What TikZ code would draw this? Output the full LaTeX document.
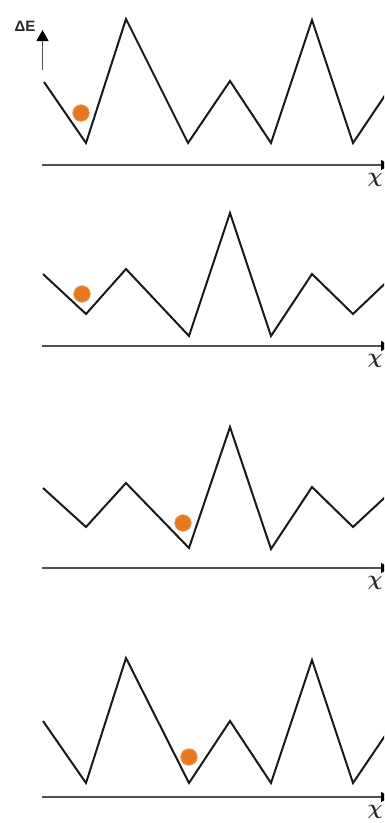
\documentclass[tikz,border=0pt]{standalone}
\usepackage{amsmath}
\usepackage{fontspec}
\setmainfont{Liberation Sans}
\usetikzlibrary{arrows.meta}
\definecolor{ballorange}{RGB}{232,119,34}
\definecolor{axisgray}{RGB}{80,80,80}
\begin{document}
\begin{tikzpicture}[x=1pt,y=-1pt,
  zig/.style={line width=2pt,black!90,line join=miter},
  xaxis/.style={line width=1.5pt,axisgray,-{Triangle[width=10pt,length=9pt,color=black]}},
  ball/.style={circle,fill=ballorange,draw=ballorange!75!white,line width=0.8pt,minimum size=16.5pt,inner sep=0pt},
  chilabel/.style={inner sep=0pt,text=black!85,font=\fontsize{21}{21}\selectfont}]
\useasboundingbox (0,0) rectangle (384,823);
\clip (0,0) rectangle (384,823);
% ---- energy axis label
\node[inner sep=0pt,font=\bfseries\fontsize{15}{15}\selectfont,text=black!85] (dE) at (25,26) {ΔE};
\coordinate (ea0) at (42.5,70);
\coordinate (ea1) at (42.5,30);
\draw[line width=1.1pt,axisgray,-{Triangle[width=12pt,length=11pt,color=black]}] (ea0) -- (ea1);
% ---- panel 1
\draw[zig] (44,82) -- (86,143) -- (126,19) -- (188,143) -- (230,81) -- (271,143) -- (312,20) -- (353,143) -- (394,82);
\coordinate (a1) at (42,165); \coordinate (b1) at (390,165);
\draw[xaxis] (a1) -- (b1);
\node[chilabel] (c1) at (375,180) {$\boldsymbol{\chi}$};
\node[ball] (p1) at (81,113) {};
% ---- panel 2
\draw[zig] (43,274) -- (86,314) -- (126,269) -- (189,336) -- (230,213) -- (271,336) -- (312,274) -- (353,314) -- (395,274);
\coordinate (a2) at (42,346); \coordinate (b2) at (390,346);
\draw[xaxis] (a2) -- (b2);
\node[chilabel] (c2) at (375,361) {$\boldsymbol{\chi}$};
\node[ball] (p2) at (82,294) {};
% ---- panel 3
\draw[zig] (43,488) -- (86,527) -- (126,483) -- (189,548) -- (230,427) -- (271,549) -- (312,487) -- (353,527) -- (395,488);
\coordinate (a3) at (42,568); \coordinate (b3) at (390,568);
\draw[xaxis] (a3) -- (b3);
\node[chilabel] (c3) at (375,583) {$\boldsymbol{\chi}$};
\node[ball] (p3) at (183,523) {};
% ---- panel 4
\draw[zig] (43,721) -- (86,783) -- (126,658) -- (189,783) -- (230,721) -- (271,783) -- (312,660) -- (353,783) -- (395,721);
\coordinate (a4) at (42,797); \coordinate (b4) at (390,797);
\draw[xaxis] (a4) -- (b4);
\node[chilabel] (c4) at (375,812) {$\boldsymbol{\chi}$};
\node[ball] (p4) at (189,757) {};
\end{tikzpicture}
\end{document}
